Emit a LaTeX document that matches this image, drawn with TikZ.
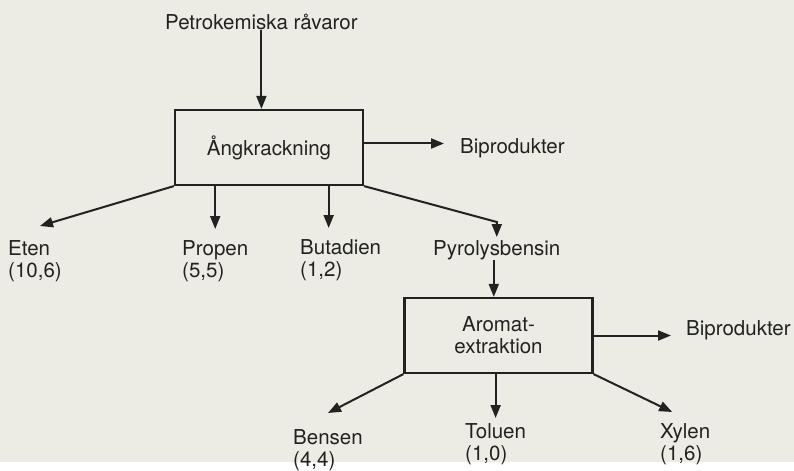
\documentclass[tikz,border=0pt]{standalone}
\usepackage{fontspec}
\setmainfont{TeX Gyre Heros}
\usepackage{tikz}
\usetikzlibrary{arrows.meta, positioning, calc}
\definecolor{paper}{RGB}{236,236,228}
\definecolor{ink}{RGB}{34,34,34}

\begin{document}
\begin{tikzpicture}[x=1pt, y=-1pt,
    every node/.style={font=\fontsize{20.5}{22}\selectfont, text=ink},
    proc/.style={draw=ink, line width=2.2pt, minimum width=188pt,
                 minimum height=75pt, inner sep=0pt, align=center},
    prod/.style={anchor=north west, inner sep=0pt, align=left},
    flow/.style={draw=ink, line width=2pt, -{Triangle[length=13pt, width=10pt]}},
]
  \fill[paper] (0,0) rectangle (794,462);

  % steam cracker
  \node[prod] (petro) at (165,14) {Petrokemiska råvaror};
  \node[proc] (krack) at (269,147.5) {Ångkrackning};
  \node[prod] (bip1) at (460,138) {Biprodukter};
  \node[prod] (eten) at (8,240) {Eten\\(10,6)};
  \node[prod] (propen) at (182,240) {Propen\\(5,5)};
  \node[prod] (butadien) at (300,239) {Butadien\\(1,2)};
  \node[prod] (pyro) at (433,240) {Pyrolysbensin};

  % aromatics
  \node[proc] (arom) at (498.5,335.5) {Aromat-\\extraktion};
  \node[prod] (bip2) at (686,320) {Biprodukter};
  \node[prod] (bensen) at (293,429) {Bensen\\(4,4)};
  \node[prod] (toluen) at (465,423) {Toluen\\(1,0)};
  \node[prod] (xylen) at (660,423) {Xylen\\(1,6)};

  \coordinate (pbend) at ([yshift=18pt]pyro.north);

  \draw[flow] (petro.south) -- (petro.south |- krack.north);
  \draw[flow] ([yshift=4pt]krack.east) -- ([yshift=4pt]krack.east -| bip1.west)
              [shorten >=16pt];
  \draw[flow] (krack.south west) -- ([shift={(5,-14)}]eten.north);
  \draw[flow] (krack.south -| propen.north) -- ([yshift=11pt]propen.north);
  \draw[flow] ([xshift=-12pt]butadien.north |- krack.south)
              -- ([xshift=-12pt, yshift=11pt]butadien.north);
  \draw[flow] (krack.south east) -- (pbend) -- ([yshift=3pt]pyro.north);

  \draw[flow] ([xshift=-3pt]pyro.south) -- ([xshift=-3pt]pyro.south |- arom.north);
  \draw[flow] (arom.east) -- (arom.east -| bip2.west) [shorten >=15pt];
  \draw[flow] (arom.south west) -- ([yshift=16pt]bensen.north);
  \draw[flow] (arom.south -| toluen.north) -- ([yshift=5pt]toluen.north);
  \draw[flow] (arom.south east) -- ([shift={(-13,-11)}]xylen.north);
\end{tikzpicture}
\end{document}
